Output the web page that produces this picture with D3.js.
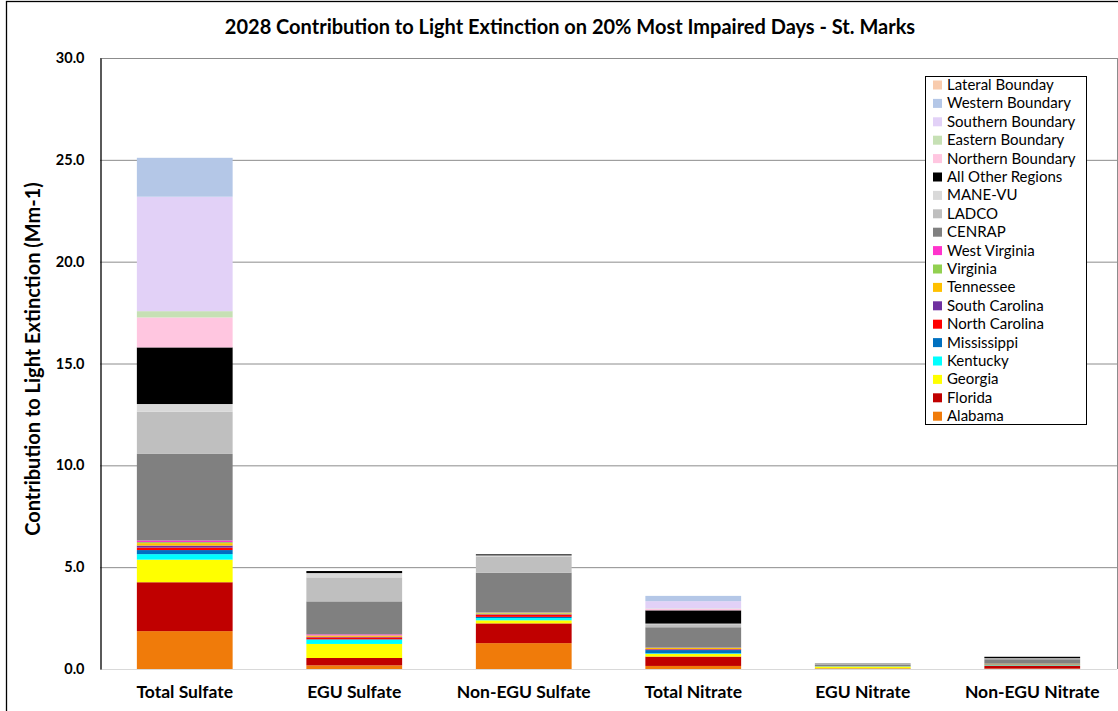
<!DOCTYPE html>
<html><head><meta charset="utf-8">
<script src="https://cdn.jsdelivr.net/npm/d3@7"></script>
<style>body{margin:0;background:#fff}svg{display:block}text{font-family:Lato,"Open Sans",sans-serif}</style>
</head><body><svg id="c" width="1118" height="711"></svg>
<script>
const categories = ["Total Sulfate","EGU Sulfate","Non-EGU Sulfate","Total Nitrate","EGU Nitrate","Non-EGU Nitrate"];
const seriesNames = ["Alabama","Florida","Georgia","Kentucky","Mississippi","North Carolina","South Carolina","Tennessee","Virginia","West Virginia","CENRAP","LADCO","MANE-VU","All Other Regions","Northern Boundary","Eastern Boundary","Southern Boundary","Western Boundary","Lateral Bounday"];
const seriesColors = ["#f07b0a","#c00000","#ffff00","#00ffff","#0070c0","#ff0000","#7030a0","#ffc000","#92d050","#ff33cc","#808080","#bfbfbf","#d9d9d9","#000000","#ffc6e0","#c6e0b4","#e2d1f7","#b4c7e7","#f8cbad"];
// values per series, one per category
const Alabama          = [1.86, 0.18, 1.27, 0.15, 0.01, 0.02];
const Florida          = [2.40, 0.36, 0.97, 0.46, 0.02, 0.13];
const Georgia          = [1.11, 0.69, 0.15, 0.13, 0.08, 0.02];
const Kentucky         = [0.27, 0.21, 0.11, 0.03, 0.01, 0.01];
const Mississippi      = [0.20, 0.02, 0.06, 0.16, 0.01, 0.04];
const NorthCarolina    = [0.12, 0.09, 0.10, 0.03, 0.00, 0.01];
const SouthCarolina    = [0.10, 0.03, 0.03, 0.02, 0.00, 0.00];
const Tennessee        = [0.12, 0.06, 0.04, 0.05, 0.01, 0.03];
const Virginia         = [0.05, 0.01, 0.04, 0.01, 0.00, 0.00];
const WestVirginia     = [0.08, 0.05, 0.01, 0.01, 0.00, 0.00];
const CENRAP           = [4.25, 1.62, 1.95, 1.00, 0.07, 0.22];
const LADCO            = [2.07, 1.18, 0.77, 0.15, 0.03, 0.04];
const MANEVU           = [0.38, 0.21, 0.08, 0.03, 0.00, 0.01];
const AllOther         = [2.78, 0.10, 0.05, 0.65, 0.02, 0.07];
const Northern         = [1.47, 0.00, 0.00, 0.07, 0.00, 0.00];
const Eastern          = [0.31, 0.00, 0.00, 0.02, 0.00, 0.00];
const Southern         = [5.62, 0.00, 0.00, 0.36, 0.00, 0.00];
const Western          = [1.91, 0.00, 0.00, 0.26, 0.00, 0.00];
const Lateral          = [0.00, 0.00, 0.00, 0.00, 0.00, 0.00];
const yTicks = [0,5,10,15,20,25,30];

const seriesValues = [Alabama,Florida,Georgia,Kentucky,Mississippi,NorthCarolina,SouthCarolina,Tennessee,Virginia,WestVirginia,CENRAP,LADCO,MANEVU,AllOther,Northern,Eastern,Southern,Western,Lateral];
const rows = categories.map((c,i)=>{const r={cat:c};seriesNames.forEach((s,j)=>r[s]=seriesValues[j][i]);return r;});
const stack = d3.stack().keys(seriesNames)(rows);

const svg = d3.select("#c");
// outer frame
svg.append("rect").attr("x",6.5).attr("y",1.5).attr("width",1130).attr("height",720).attr("fill","none").attr("stroke","#000").attr("stroke-width",1.3);

const L=100,R=1117,T=58,B=669;
const x = d3.scaleBand().domain(categories).range([L,R]).paddingInner(0.435).paddingOuter(0.2175);
const y = d3.scaleLinear().domain([0,30]).range([B,T]);

// gridlines
svg.append("g").selectAll("line").data(yTicks.filter(d=>d>0)).join("line")
  .attr("x1",L).attr("x2",R).attr("y1",d=>y(d)+0.5).attr("y2",d=>y(d)+0.5).attr("stroke","#8c8c8c").attr("stroke-width",1);
svg.append("line").attr("x1",L).attr("x2",R).attr("y1",B+0.5).attr("y2",B+0.5).attr("stroke","#d9d9d9");
svg.append("line").attr("x1",R+0.5).attr("x2",R+0.5).attr("y1",T).attr("y2",B).attr("stroke","#8c8c8c");

// bars
svg.append("g").selectAll("g").data(stack).join("g").attr("fill",(d,i)=>seriesColors[i])
  .selectAll("rect").data(d=>d).join("rect")
  .attr("x",d=>x(d.data.cat)).attr("width",x.bandwidth())
  .attr("y",d=>y(d[1])).attr("height",d=>Math.max(0,y(d[0])-y(d[1])));

// y axis
const ya = svg.append("g").attr("transform",`translate(${L+0.5},0)`).call(d3.axisLeft(y).tickValues(yTicks).tickFormat(d3.format(".1f")).tickSize(0).tickPadding(16));
ya.select(".domain").attr("stroke","#000").attr("stroke-width",1.3);
ya.selectAll("text").attr("font-family","Lato").attr("font-size",14.5).attr("font-weight","bold").attr("fill","#000");

// x axis labels
const xa = svg.append("g").attr("transform",`translate(0,${B})`).call(d3.axisBottom(x).tickSize(0).tickPadding(17));
xa.select(".domain").remove();
xa.selectAll("text").attr("font-family","Lato").attr("font-size",17.5).attr("font-weight","bold").attr("fill","#000");

// title
svg.append("text").attr("x",570).attr("y",34).attr("text-anchor","middle").attr("font-size",20).attr("font-weight","bold").text("2028 Contribution to Light Extinction on 20% Most Impaired Days - St. Marks");
svg.append("text").attr("transform","translate(40,359) rotate(-90)").attr("text-anchor","middle").attr("font-size",20).attr("font-weight","bold").text("Contribution to Light Extinction (Mm-1)");

// legend
const lg = svg.append("g");
lg.append("rect").attr("x",925.5).attr("y",76.5).attr("width",161).attr("height",348).attr("fill","#fff").attr("stroke","#000");
const order = seriesNames.map((s,i)=>i).reverse();
order.forEach((si,k)=>{
  const yy = 85 + k*18.4;
  lg.append("rect").attr("x",933).attr("y",yy-4.5).attr("width",9).attr("height",9).attr("fill",seriesColors[si]);
  lg.append("text").attr("x",947).attr("y",yy+5).attr("font-size",15).attr("fill","#000").text(seriesNames[si]);
});
</script></body></html>
